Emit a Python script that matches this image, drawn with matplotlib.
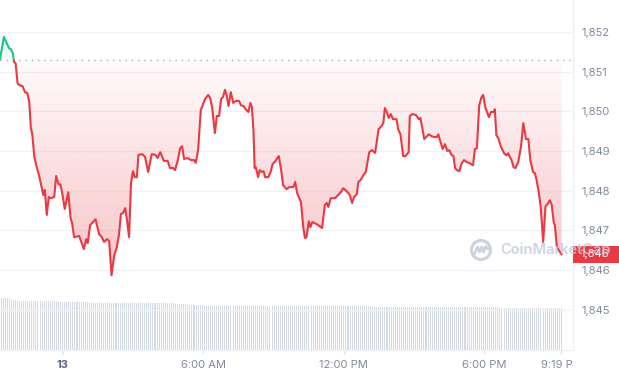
import matplotlib
matplotlib.use("Agg")
import matplotlib.pyplot as plt
import numpy as np
from matplotlib.colors import to_rgb
from matplotlib.patches import Circle, Rectangle
from matplotlib.transforms import Bbox, IdentityTransform, TransformedBbox, blended_transform_factory

# price path, minutes after 9:19 PM on the 12th
minutes = [
    0, 10, 17, 23, 28, 33, 36, 40, 45, 49, 58, 64, 70, 75, 79, 83, 88, 94, 101, 107,
    111, 115, 120, 125, 130, 139, 144, 150, 155, 161, 166, 175, 181, 185, 190, 203, 215, 221, 225, 231,
    245, 254, 261, 267, 275, 280, 286, 293, 299, 305, 310, 316, 321, 325, 331, 336, 341, 346, 351, 355,
    365, 372, 380, 389, 399, 404, 411, 420, 430, 436, 444, 449, 456, 462, 467, 472, 481, 490, 498, 502,
    508, 515, 526, 534, 539, 544, 551, 556, 562, 567, 572, 577, 581, 586, 592, 598, 605, 613, 618, 625,
    630, 637, 642, 646, 650, 653, 656, 662, 666, 671, 676, 680, 688, 694, 699, 706, 711, 715, 721, 726,
    735, 742, 752, 757, 762, 772, 778, 782, 786, 792, 796, 801, 812, 826, 833, 838, 842, 848, 859, 867,
    874, 880, 889, 897, 903, 908, 915, 919, 925, 932, 938, 947, 954, 962, 971, 979, 983, 987, 992, 997,
    1002, 1008, 1017, 1021, 1027, 1034, 1040, 1048, 1051, 1058, 1067, 1074, 1078, 1083, 1088, 1095, 1100, 1107, 1114, 1120,
    1124, 1129, 1135, 1141, 1147, 1152, 1158, 1163, 1167, 1172, 1178, 1184, 1190, 1197, 1205, 1213, 1218, 1223, 1229, 1235,
    1239, 1245, 1254, 1259, 1266, 1269, 1273, 1278, 1285, 1293, 1299, 1303, 1312, 1317, 1322, 1329, 1336, 1342, 1349, 1355,
    1360, 1367, 1372, 1376, 1382, 1387, 1393, 1399, 1404, 1410, 1415, 1420, 1423, 1428, 1433, 1440,
]
prices = [
    1851.31, 1851.87, 1851.72, 1851.59, 1851.56, 1851.46, 1851.24, 1851.21, 1850.71, 1850.66,
    1850.63, 1850.48, 1850.46, 1850.23, 1849.60, 1849.40, 1848.85, 1848.60, 1848.35, 1848.07,
    1847.89, 1848.02, 1847.39, 1847.84, 1847.81, 1847.84, 1848.37, 1848.16, 1848.16, 1847.86,
    1847.54, 1847.96, 1847.31, 1847.18, 1846.83, 1846.86, 1846.53, 1846.78, 1846.68, 1847.13,
    1847.28, 1846.91, 1846.83, 1846.71, 1846.78, 1846.73, 1845.87, 1846.38, 1846.55, 1846.88,
    1847.41, 1847.44, 1847.56, 1847.31, 1846.83, 1848.19, 1848.49, 1848.34, 1848.34, 1848.90,
    1848.92, 1848.85, 1848.47, 1848.92, 1848.90, 1848.82, 1848.97, 1848.75, 1848.75, 1848.57,
    1848.57, 1848.52, 1848.77, 1849.07, 1849.12, 1848.80, 1848.82, 1848.77, 1848.77, 1848.70,
    1849.02, 1850.03, 1850.31, 1850.41, 1850.33, 1850.10, 1849.45, 1849.88, 1849.88, 1850.31,
    1850.36, 1850.54, 1850.41, 1850.13, 1850.48, 1850.21, 1850.26, 1850.26, 1850.15, 1850.13,
    1850.05, 1849.98, 1850.21, 1850.10, 1849.52, 1848.57, 1848.59, 1848.34, 1848.52, 1848.47,
    1848.49, 1848.34, 1848.34, 1848.47, 1848.67, 1848.74, 1848.82, 1848.87, 1848.52, 1848.14,
    1848.04, 1848.09, 1848.09, 1848.22, 1847.94, 1847.71, 1847.06, 1846.81, 1846.83, 1847.23,
    1847.08, 1847.21, 1847.16, 1847.06, 1847.64, 1847.69, 1847.59, 1847.81, 1847.81, 1847.89,
    1847.96, 1848.06, 1847.99, 1847.89, 1847.69, 1847.84, 1847.91, 1848.22, 1848.27, 1848.39,
    1848.47, 1848.97, 1849.02, 1848.95, 1849.55, 1849.63, 1849.70, 1850.08, 1849.98, 1849.83,
    1849.93, 1849.80, 1849.80, 1849.55, 1849.42, 1848.87, 1848.87, 1848.97, 1849.88, 1849.93,
    1849.90, 1849.80, 1849.83, 1849.58, 1849.30, 1849.37, 1849.42, 1849.37, 1849.35, 1849.35,
    1849.42, 1849.25, 1849.05, 1849.17, 1849.00, 1849.02, 1848.90, 1848.87, 1848.57, 1848.52,
    1848.49, 1848.69, 1848.77, 1848.72, 1848.69, 1848.64, 1849.05, 1849.07, 1850.15, 1850.36,
    1850.41, 1850.08, 1849.85, 1849.98, 1849.98, 1850.05, 1849.40, 1849.32, 1849.10, 1848.94,
    1848.89, 1848.94, 1848.77, 1848.59, 1848.57, 1848.72, 1849.10, 1849.70, 1849.30, 1849.30,
    1848.77, 1848.47, 1848.44, 1848.27, 1847.94, 1847.56, 1846.71, 1847.61, 1847.66, 1847.76,
    1847.64, 1847.21, 1847.13, 1846.60, 1846.50, 1846.40,
]
open_price = 1851.30

# 24h volume (millions), one bar every 5 minutes
volume_m = ([520] * 6 + [500] * 3 + [490] * 21 + [480] * 16 + [470] * 44 + [460] * 7
            + [450] * 8 + [440] * 87 + [430] * 64 + [420] * 33)
bar_step = 5

x_tick_minutes = [161, 521, 881, 1241, 1440]
x_tick_labels = ["13", "6:00 AM", "12:00 PM", "6:00 PM", "9:19 PM"]
y_ticks = [1845, 1846, 1847, 1848, 1849, 1850, 1851, 1852]
y_tick_labels = ["1,845", "1,846", "1,847", "1,848", "1,849", "1,850", "1,851", "1,852"]
last_label = "1,846"

RED = "#ea3943"
GREEN = "#16c784"
GRID = "#eff2f5"
TEXT = "#808a9d"

plt.rcParams["font.family"] = ["Inter", "DejaVu Sans"]

W, H = 619, 376
fig = plt.figure(figsize=(W / 100, H / 100), dpi=100)
ax_w = 573 / W
ax_b = (H - 350) / H
ax = fig.add_axes([0, ax_b, ax_w, 1 - ax_b])

# volume bars behind the price
axv = ax.twinx()
bar_x = np.arange(len(volume_m)) * bar_step
axv.bar(bar_x, volume_m, width=bar_step * 0.5, color="#d3d9e5", linewidth=0, antialiased=False)
axv.set_ylim(0, 3500)
axv.set_yticks([])
for s in axv.spines.values():
    s.set_visible(False)
ax.set_zorder(axv.get_zorder() + 1)
ax.patch.set_visible(False)

t = np.array(minutes, dtype=float)
p = np.array(prices)

# gradient fill between line and open price
r, g, b = to_rgb(RED)
grad = np.zeros((256, 1, 4))
grad[..., 0], grad[..., 1], grad[..., 2] = r, g, b
grad[:, 0, 3] = np.linspace(0.30, 0.02, 256)
im = ax.imshow(grad, extent=[t[0], t[-1], p.min(), open_price], origin="lower",
               aspect="auto", zorder=1, interpolation="bilinear")
poly = ax.fill_between(t, np.minimum(p, open_price), open_price, facecolor="none", edgecolor="none")
im.set_clip_path(poly.get_paths()[0], transform=ax.transData)

rg, gg, bg = to_rgb(GREEN)
ggrad = np.zeros((64, 1, 4))
ggrad[..., 0], ggrad[..., 1], ggrad[..., 2] = rg, gg, bg
ggrad[:, 0, 3] = np.linspace(0.02, 0.12, 64)
im2 = ax.imshow(ggrad, extent=[t[0], t[-1], open_price, p.max()], origin="lower",
                aspect="auto", zorder=1, interpolation="bilinear")
poly2 = ax.fill_between(t, open_price, np.maximum(p, open_price), facecolor="none", edgecolor="none")
im2.set_clip_path(poly2.get_paths()[0], transform=ax.transData)

# line: red below open, green above
red_line, = ax.plot(t, p, color=RED, lw=1.5, zorder=3, solid_joinstyle="round")
green_line, = ax.plot(t, p, color=GREEN, lw=1.5, zorder=3, solid_joinstyle="round")
below = Rectangle((-100, 1800), 3000, open_price - 1800, transform=ax.transData)
above = Rectangle((-100, open_price), 3000, 100, transform=ax.transData)
red_line.set_clip_path(below)
green_line.set_clip_path(above)

ax.axhline(open_price, color="#a6b0c3", lw=1, ls=(0, (1, 3.5)), zorder=2)

ax.set_xlim(0, 1469.5)
ax.set_ylim(1843.99, 1852.80)

ax.yaxis.tick_right()
ax.set_yticks(y_ticks, y_tick_labels)
ax.tick_params(axis="y", length=0, pad=6, labelsize=8, labelcolor=TEXT)
ax.grid(axis="y", color=GRID, lw=1, zorder=0)
ax.set_axisbelow(True)

ax.set_xticks(x_tick_minutes, x_tick_labels)
ax.tick_params(axis="x", length=3, width=1, color="#dfe3ea", pad=4, labelsize=8, labelcolor=TEXT)
xlabels = ax.get_xticklabels()
xlabels[0].set_fontweight("bold")
xlabels[0].set_color("#58667e")
clip = TransformedBbox(Bbox([[0, 0], [ax_w, 1]]), fig.transFigure)
xlabels[-1].set_clip_box(clip)
xlabels[-1].set_clip_on(True)

for side in ("left", "top"):
    ax.spines[side].set_visible(False)
for side in ("right", "bottom"):
    ax.spines[side].set_color(GRID)
    ax.spines[side].set_linewidth(1)

# current price tag
tr = blended_transform_factory(ax.transAxes, ax.transData)
tag_h = 17 / 39.72
ax.add_patch(Rectangle((1.0, p[-1] - tag_h / 2), 46 / 573, tag_h, transform=tr,
                       facecolor=RED, edgecolor="none", clip_on=False, zorder=5))
ax.text(1.0 + 7 / 573, p[-1], last_label, transform=tr, ha="left", va="center",
        color="white", fontsize=8, zorder=6, clip_on=False)

# watermark
wm = "#c3cbdb"
cx, cy = 481, H - 250
fig.add_artist(Circle((cx, cy), 9.5, transform=IdentityTransform(), fill=False,
                      edgecolor=wm, lw=2.2, alpha=0.85, zorder=8))
wx = cx + np.array([-6.5, -3.5, -1.5, 0.5, 2.5, 4.5, 7.0])
wy = cy + np.array([-3.5, 3.0, -2.0, 3.0, -2.0, 3.5, 1.0])
fig.add_artist(plt.Line2D(wx, wy, transform=IdentityTransform(), color=wm, lw=2.0,
                          alpha=0.85, zorder=8, solid_joinstyle="round"))
fig.text(500 / W, cy / H, "CoinMarketCap", ha="left", va="center", fontsize=10.5,
         fontweight="semibold", color=wm, alpha=0.85, zorder=8)

fig.savefig("out.png", dpi=100)
